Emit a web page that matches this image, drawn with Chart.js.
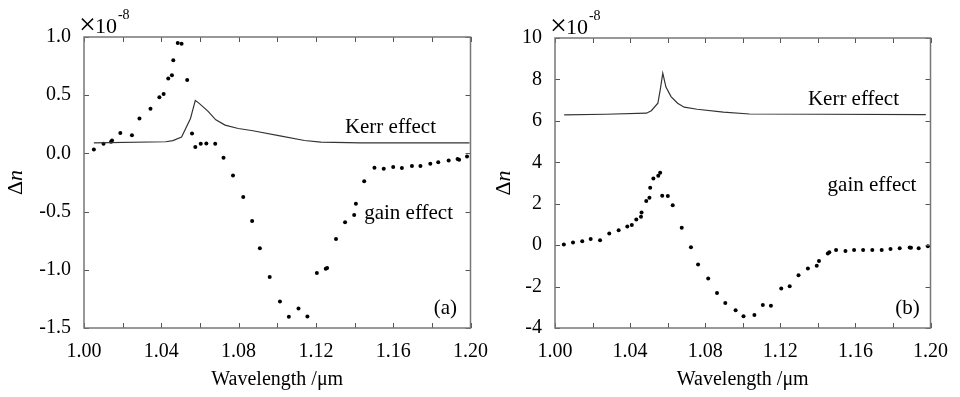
<!DOCTYPE html>
<html>
<head>
<meta charset="utf-8">
<script src="https://cdn.jsdelivr.net/npm/chart.js@4.4.0/dist/chart.umd.min.js"></script>
<style>
body { margin: 0; background: #fff; }
#wrap { position: relative; width: 960px; height: 397px; overflow: hidden; }
#chartA { position: absolute; left: 0; top: 0; }
#chartB { position: absolute; left: 480px; top: 0; }
</style>
</head>
<body>
<div id="wrap">
<canvas id="chartA" width="500" height="397"></canvas>
<canvas id="chartB" width="480" height="397"></canvas>
</div>
<script>
// (a) values in units of 1e-8
var kerrA_x = [1.0051, 1.0423, 1.0460, 1.0505, 1.0551, 1.0576, 1.0593, 1.0641, 1.0682, 1.0730, 1.0798, 1.0867, 1.1021, 1.1141, 1.1226, 1.1431, 1.1995];
var kerrA_y = [0.091, 0.10, 0.11, 0.14, 0.30, 0.455, 0.434, 0.363, 0.288, 0.243, 0.214, 0.197, 0.148, 0.111, 0.097, 0.091, 0.091];
var gainA_x = [1.0051, 1.0101, 1.0140, 1.0145, 1.0188, 1.0248, 1.0287, 1.0344, 1.0390, 1.0412, 1.0436, 1.0455, 1.0462, 1.0485, 1.0505, 1.0534, 1.0559, 1.0576, 1.0604, 1.0633, 1.0679, 1.0722, 1.0771, 1.0824, 1.0870, 1.0910, 1.0961, 1.1014, 1.1060, 1.1110, 1.1156, 1.1205, 1.1251, 1.1258, 1.1304, 1.1351, 1.1398, 1.1407, 1.1450, 1.1503, 1.1551, 1.1600, 1.1645, 1.1697, 1.1741, 1.1792, 1.1833, 1.1887, 1.1933, 1.1941, 1.1982];
var gainA_y = [0.034, 0.083, 0.10, 0.11, 0.176, 0.157, 0.300, 0.383, 0.483, 0.511, 0.643, 0.671, 0.800, 0.949, 0.943, 0.631, 0.172, 0.054, 0.083, 0.086, 0.082, -0.037, -0.189, -0.375, -0.580, -0.815, -1.061, -1.273, -1.404, -1.332, -1.401, -1.027, -0.990, -0.984, -0.735, -0.592, -0.529, -0.432, -0.240, -0.123, -0.132, -0.117, -0.126, -0.109, -0.109, -0.089, -0.077, -0.060, -0.049, -0.055, -0.026];

// (b)
var kerrB_x = [1.0049, 1.0270, 1.0487, 1.0513, 1.0548, 1.0562, 1.0574, 1.0591, 1.0618, 1.0653, 1.0688, 1.0757, 1.0897, 1.1036, 1.1419, 1.1975];
var kerrB_y = [6.29, 6.32, 6.37, 6.49, 6.85, 7.58, 8.30, 7.63, 7.17, 6.85, 6.66, 6.56, 6.42, 6.33, 6.32, 6.30];
var gainB_x = [1.0047, 1.0096, 1.0145, 1.0190, 1.0240, 1.0289, 1.0339, 1.0385, 1.0409, 1.0433, 1.0458, 1.0461, 1.0486, 1.0503, 1.0507, 1.0524, 1.0550, 1.0560, 1.0571, 1.0601, 1.0627, 1.0675, 1.0724, 1.0762, 1.0816, 1.0863, 1.0907, 1.0962, 1.1004, 1.1062, 1.1107, 1.1150, 1.1205, 1.1250, 1.1297, 1.1347, 1.1394, 1.1406, 1.1453, 1.1461, 1.1497, 1.1547, 1.1593, 1.1641, 1.1690, 1.1740, 1.1787, 1.1836, 1.1889, 1.1896, 1.1937, 1.1986];
var gainB_y = [0.03, 0.13, 0.19, 0.30, 0.24, 0.56, 0.72, 0.90, 0.97, 1.24, 1.37, 1.58, 2.13, 2.29, 2.77, 3.22, 3.35, 3.50, 2.38, 2.37, 1.93, 0.84, -0.10, -0.93, -1.61, -2.31, -2.79, -3.14, -3.43, -3.37, -2.89, -2.92, -2.09, -1.98, -1.45, -1.13, -1.00, -0.77, -0.40, -0.34, -0.24, -0.28, -0.23, -0.23, -0.23, -0.23, -0.19, -0.15, -0.11, -0.13, -0.15, -0.05];

var FONT = "'Liberation Serif', 'Times New Roman', serif";

function pts(xs, ys) {
    return xs.map(function(x, i) { return {x: x, y: ys[i]}; });
}

// box, inward ticks, notes, exponent and the y title
var framePlugin = {
    id: 'frame',
    afterDraw: function(chart, args, opts) {
        var ctx = chart.ctx, a = chart.chartArea;
        var sx = chart.scales.x, sy = chart.scales.y;
        ctx.save();
        ctx.strokeStyle = '#555';
        ctx.lineWidth = 1;
        ctx.beginPath();
        sx.ticks.forEach(function(t) {
            var p = Math.round(sx.getPixelForValue(t.value)) + 0.5;
            ctx.moveTo(p, a.bottom); ctx.lineTo(p, a.bottom - 5);
            ctx.moveTo(p, a.top); ctx.lineTo(p, a.top + 5);
        });
        sy.ticks.forEach(function(t) {
            var p = Math.round(sy.getPixelForValue(t.value)) + 0.5;
            ctx.moveTo(a.left, p); ctx.lineTo(a.left + 5, p);
            ctx.moveTo(a.right, p); ctx.lineTo(a.right - 5, p);
        });
        ctx.stroke();
        ctx.strokeStyle = '#777';
        ctx.lineWidth = 1.5;
        ctx.strokeRect(a.left, a.top, a.right - a.left, a.bottom - a.top);

        ctx.fillStyle = '#000';
        ctx.font = '21px ' + FONT;
        ctx.textBaseline = 'middle';
        ctx.textAlign = 'left';
        opts.notes.forEach(function(n) {
            ctx.fillText(n.text, sx.getPixelForValue(n.x), sy.getPixelForValue(n.y));
        });

        // x10^-8 with a large multiplication sign
        ctx.textBaseline = 'alphabetic';
        ctx.font = '30px ' + FONT;
        ctx.fillText('\u00d7', a.left - 5, a.top - 3);
        var wx = ctx.measureText('\u00d7').width;
        ctx.font = '22px ' + FONT;
        ctx.fillText('10', a.left - 5 + wx - 1, a.top - 4);
        var w = ctx.measureText('10').width;
        ctx.font = '14px ' + FONT;
        ctx.fillText('-8', a.left - 5 + wx + w, a.top - 18);

        // y title: upright delta, italic n
        ctx.translate(opts.titleX, (a.top + a.bottom) / 2);
        ctx.rotate(-Math.PI / 2);
        ctx.textBaseline = 'middle';
        ctx.font = '22px ' + FONT;
        var wd = ctx.measureText('\u0394').width;
        ctx.font = 'italic 22px ' + FONT;
        var wn = ctx.measureText('n').width;
        var x0 = -(wd + wn) / 2;
        ctx.font = '22px ' + FONT;
        ctx.fillText('\u0394', x0, 0);
        ctx.font = 'italic 22px ' + FONT;
        ctx.fillText('n', x0 + wd, 0);
        ctx.restore();
    }
};

function makeChart(id, kx, ky, gx, gy, y, pad, yWidth, notes, titleX) {
    return new Chart(document.getElementById(id), {
        type: 'scatter',
        data: {
            datasets: [{
                label: 'Kerr effect',
                data: pts(kx, ky),
                showLine: true,
                borderColor: '#333',
                borderWidth: 1.2,
                pointRadius: 0,
                tension: 0
            }, {
                label: 'gain effect',
                data: pts(gx, gy),
                showLine: false,
                backgroundColor: '#000',
                borderWidth: 0,
                pointRadius: 2
            }]
        },
        options: {
            responsive: false,
            animation: false,
            layout: { padding: pad },
            plugins: {
                legend: { display: false },
                tooltip: { enabled: false },
                frame: { notes: notes, titleX: titleX }
            },
            scales: {
                x: {
                    type: 'linear',
                    min: 1.0,
                    max: 1.2,
                    grid: { display: false, drawTicks: false },
                    border: { display: false },
                    afterFit: function(s) { s.height = 69; },
                    ticks: {
                        stepSize: 0.02,
                        autoSkip: false,
                        maxRotation: 0,
                        padding: 12,
                        color: '#000',
                        font: { family: FONT, size: 20 },
                        callback: function(v, i) { return i % 2 === 0 ? v.toFixed(2) : ''; }
                    },
                    title: {
                        display: true,
                        text: 'Wavelength /\u03bcm',
                        color: '#000',
                        font: { family: FONT, size: 20 },
                        padding: { top: 0, bottom: 5 }
                    }
                },
                y: {
                    min: y.min,
                    max: y.max,
                    grid: { display: false, drawTicks: false },
                    border: { display: false },
                    afterFit: function(s) { s.width = yWidth; },
                    ticks: {
                        stepSize: y.step,
                        autoSkip: false,
                        padding: 13,
                        color: '#000',
                        font: { family: FONT, size: 20 },
                        callback: function(v) { return v.toFixed(y.dec); }
                    }
                }
            }
        },
        plugins: [framePlugin]
    });
}

makeChart('chartA', kerrA_x, kerrA_y, gainA_x, gainA_y,
    { min: -1.5, max: 1.0, step: 0.5, dec: 1 },
    { top: 37, right: 26, left: 0, bottom: 0 }, 84,
    [{ text: 'Kerr effect', x: 1.135, y: 0.225 },
     { text: 'gain effect', x: 1.145, y: -0.513 },
     { text: '(a)', x: 1.181, y: -1.336 }], 16);

makeChart('chartB', kerrB_x, kerrB_y, gainB_x, gainB_y,
    { min: -4, max: 10, step: 2, dec: 0 },
    { top: 38, right: 22, left: 0, bottom: 0 }, 75,
    [{ text: 'Kerr effect', x: 1.1347, y: 7.01 },
     { text: 'gain effect', x: 1.1452, y: 2.90 },
     { text: '(b)', x: 1.1812, y: -3.05 }], 24);
</script>
</body>
</html>
